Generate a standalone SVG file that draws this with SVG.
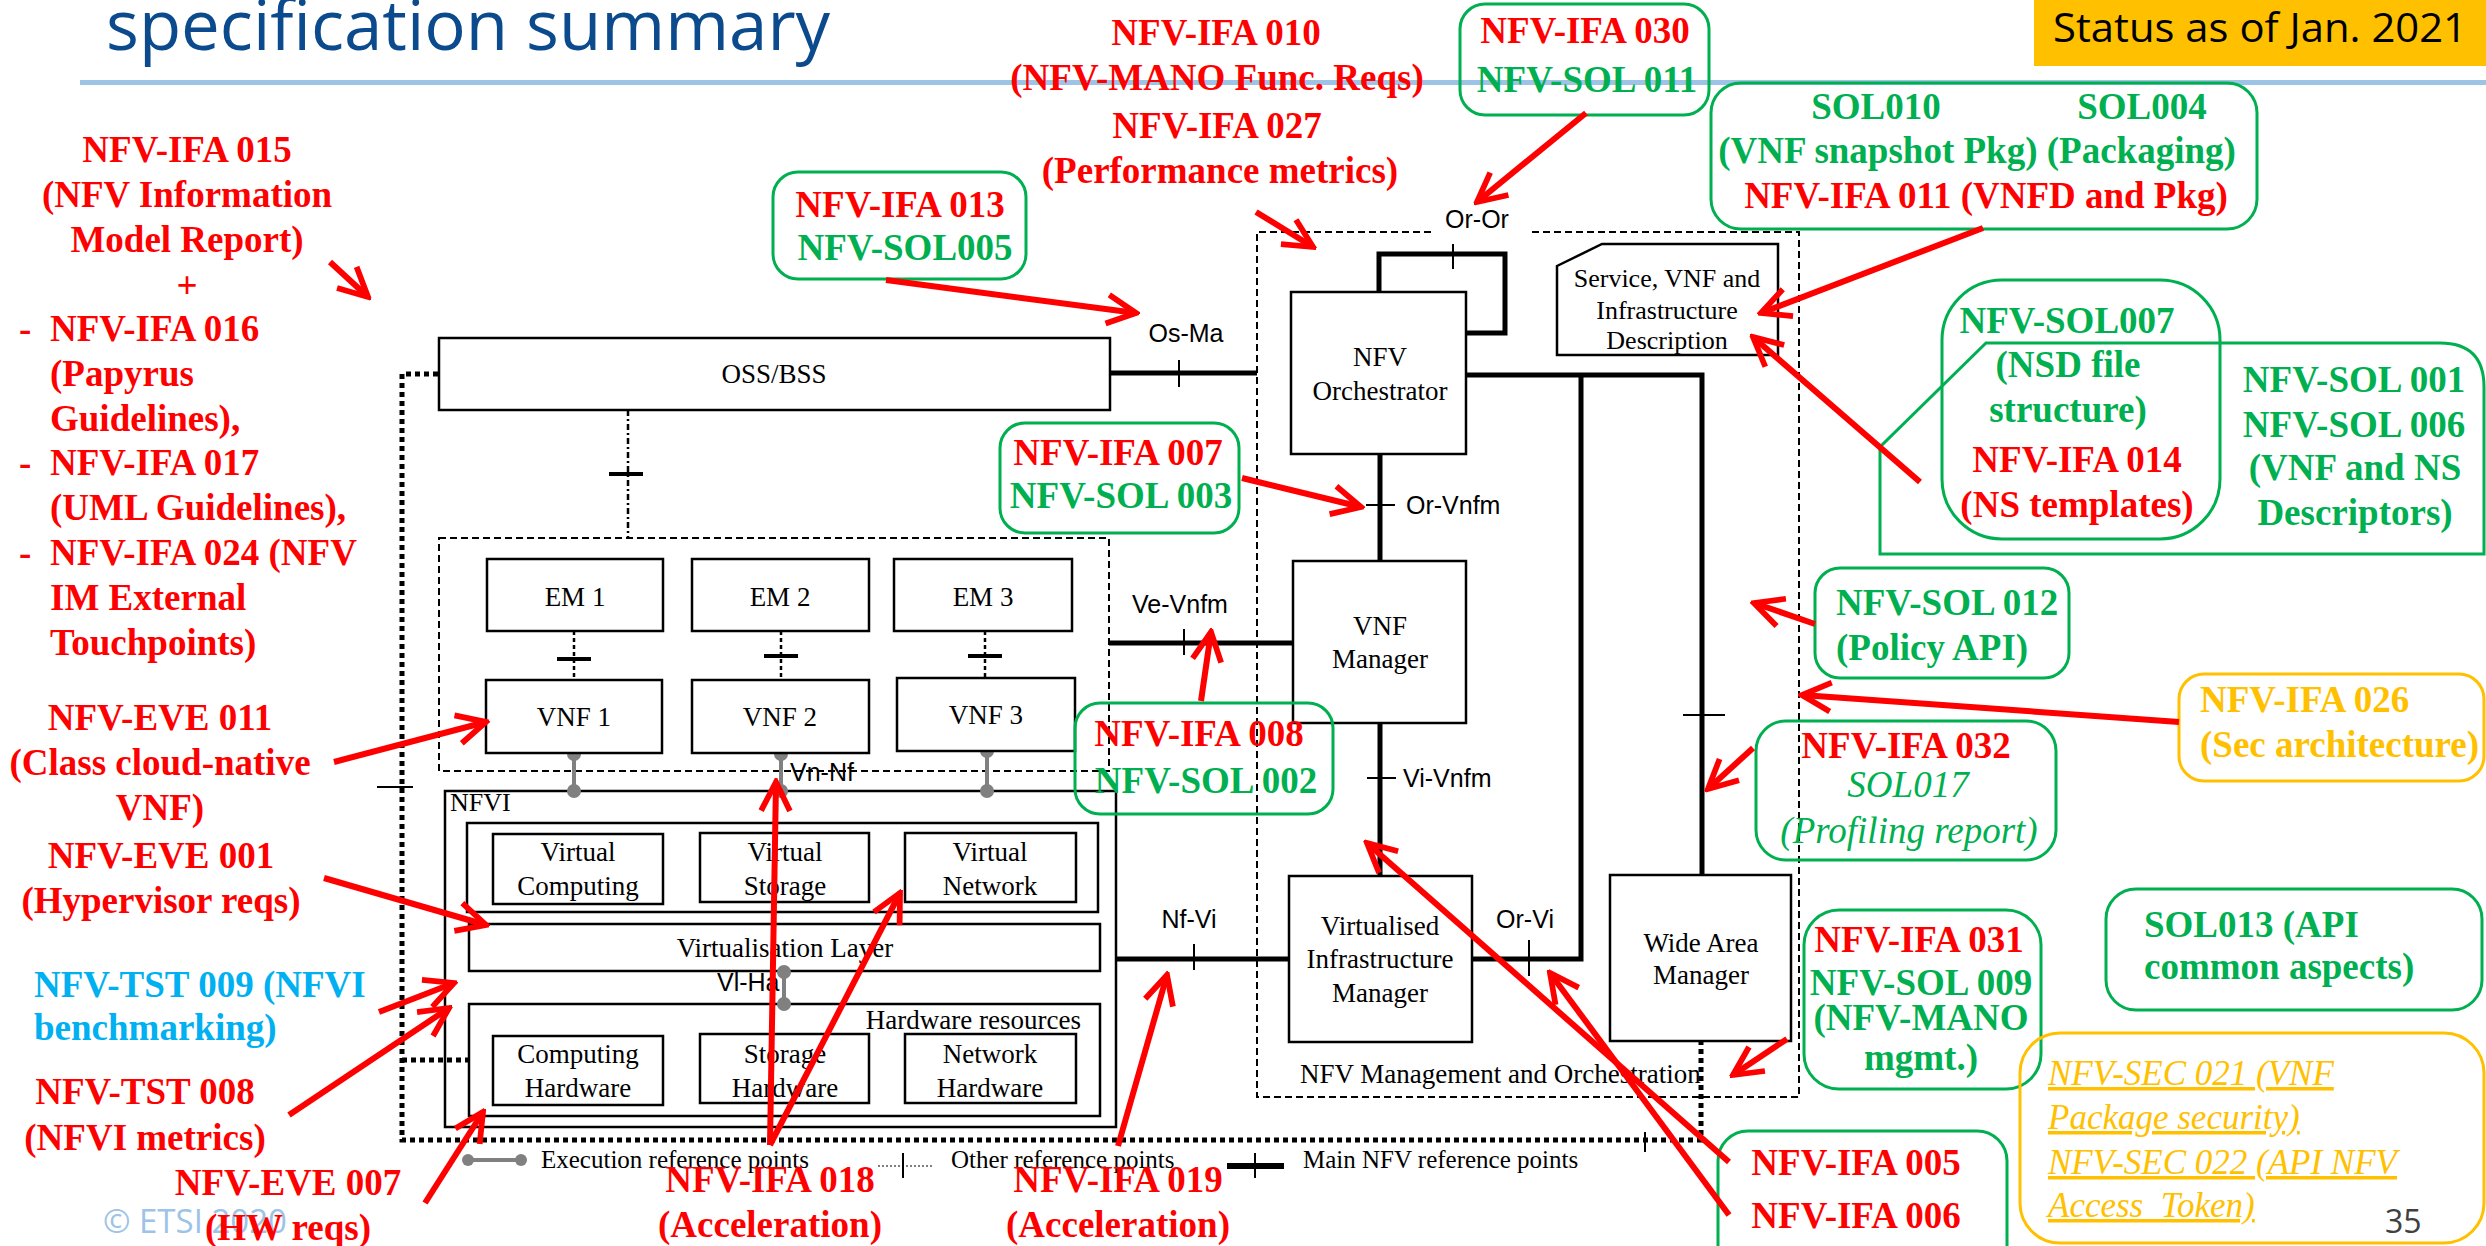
<svg xmlns="http://www.w3.org/2000/svg" width="2486" height="1246" viewBox="0 0 2486 1246">
<style>
.nb{font-family:"Liberation Serif","Times New Roman",serif;font-weight:bold;font-size:37px}
.it{font-family:"Liberation Serif","Times New Roman",serif;font-style:italic;font-size:37px}
.sec{font-family:"Liberation Serif","Times New Roman",serif;font-style:italic;font-size:35px;fill:#FFC000;text-decoration:underline}
.red{fill:#FF0000}.grn{fill:#00B050}.gold{fill:#FFC000}.cyan{fill:#00B0F0}
.dg{font-family:"Liberation Serif","Times New Roman",serif;font-size:27px;fill:#000}
.sm{font-size:26px}
.lg{font-family:"Liberation Serif","Times New Roman",serif;font-size:25px;fill:#000}
.lab{font-family:"Liberation Sans",Arial,sans-serif;font-size:25px;fill:#000}
.m{text-anchor:middle}.e{text-anchor:end}
.box{fill:#fff;stroke:#000;stroke-width:2.5}
.cont{fill:none;stroke:#000;stroke-width:2.5}
.dash{fill:none;stroke:#000;stroke-width:2;stroke-dasharray:7 4}
.main{fill:none;stroke:#000;stroke-width:5}
.tick{stroke:#000;stroke-width:2;fill:none}
.ttick{stroke:#000;stroke-width:4;fill:none}
.dd{stroke:#000;stroke-width:2.5;stroke-dasharray:4 3;fill:none}
.hd{fill:none;stroke:#000;stroke-width:5;stroke-dasharray:5 4}
.ex{stroke:#808080;stroke-width:4;fill:none}
.exd{fill:#808080}
.note{fill:none;stroke:#00B050;stroke-width:3}
.gnote{fill:none;stroke:#FFC000;stroke-width:3}
.arr{fill:none;stroke:#FF0000;stroke-width:6;marker-end:url(#ah)}
</style>
<defs>
<marker id="ah" viewBox="0 0 10 10" refX="9" refY="5" markerWidth="6" markerHeight="6" orient="auto" markerUnits="strokeWidth">
<path d="M1,1 L9,5 L1,9" fill="none" stroke="#FF0000" stroke-width="1.6"/>
</marker>
</defs>
<rect width="2486" height="1246" fill="#fff"/>

<g id="header">
<text x="106" y="50" font-family="'Open Sans',sans-serif" font-size="69" fill="#0B4A8C">specification summary</text>
<rect x="80" y="80" width="2406" height="5" fill="#9DC3E6"/>
<rect x="2034" y="0" width="452" height="66" fill="#FFC000"/>
<text x="2053" y="42" font-family="'Open Sans',sans-serif" font-size="40" fill="#000" textLength="414" lengthAdjust="spacingAndGlyphs">Status as of Jan. 2021</text>
<text x="103" y="1233" font-family="'Open Sans',sans-serif" font-size="33" fill="#9DC3E6">© ETSI 2020</text>
<text x="2385" y="1233" font-family="'Open Sans',sans-serif" font-size="32" fill="#404040">35</text>
</g>

<g id="diagram-containers">
<rect x="439" y="538" width="670" height="233" class="dash"/>
<rect x="445" y="791" width="671" height="336" class="cont"/>
<rect x="467" y="823" width="631" height="89" class="cont"/>
<rect x="469" y="924" width="631" height="47" class="cont"/>
<rect x="469" y="1004" width="631" height="112" class="cont"/>
<path d="M1431,232 H1257 V1097 H1799 V232 H1528" class="dash"/>
</g>

<g id="connectors">
<path d="M1110,373 H1257" class="main"/>
<path d="M1379,292 V254 H1505 V333 H1466" class="main"/>
<path d="M1380,454 V561" class="main"/>
<path d="M1109,643 H1293" class="main"/>
<path d="M1380,723 V876" class="main"/>
<path d="M1466,375 H1702 V875" class="main"/>
<path d="M1581,375 V959 H1472" class="main"/>
<path d="M1116,959 H1289" class="main"/>
<path d="M1179,360 V387 M1453,244 V269 M1366,505 H1395 M1184,629 V655 M1367,778 H1396 M1683,715 H1725 M1529,940 V976 M1194,944 V970" class="tick"/>
<path d="M438,374 H402 V1140 H1701 V1041 M402,1060 H469" class="hd"/>
<path d="M377,787 H413 M1645,1132 V1152" class="tick" stroke-width="2.5"/>
<path d="M628,410 V538" stroke="#000" stroke-width="2.5" stroke-dasharray="6 3 2 3" fill="none"/>
<path d="M609,474 H643" class="ttick"/>
<path d="M574,631 V680 M781,631 V680 M985,631 V678" class="dd"/>
<path d="M557,659 H591 M764,656 H798 M968,656 H1002" class="ttick"/>
<path d="M574,754 V791 M781,754 V791 M987,751 V791 M784,972 V1004" class="ex"/>
<g class="exd">
<circle cx="574" cy="754" r="7"/><circle cx="574" cy="791" r="7"/>
<circle cx="781" cy="754" r="7"/><circle cx="781" cy="791" r="7"/>
<circle cx="987" cy="751" r="7"/><circle cx="987" cy="791" r="7"/>
<circle cx="784" cy="972" r="7"/><circle cx="784" cy="1004" r="7"/>
</g>
</g>

<g id="node-oss"><rect x="439" y="338" width="671" height="72" class="box"/><text x="774" y="383" class="dg m">OSS/BSS</text></g>
<g id="node-em1"><rect x="487" y="559" width="176" height="72" class="box"/><text x="575" y="606" class="dg m">EM 1</text></g>
<g id="node-em2"><rect x="692" y="559" width="177" height="72" class="box"/><text x="780" y="606" class="dg m">EM 2</text></g>
<g id="node-em3"><rect x="894" y="559" width="178" height="72" class="box"/><text x="983" y="606" class="dg m">EM 3</text></g>
<g id="node-vnf1"><rect x="486" y="680" width="176" height="73" class="box"/><text x="574" y="726" class="dg m">VNF 1</text></g>
<g id="node-vnf2"><rect x="692" y="680" width="177" height="73" class="box"/><text x="780" y="726" class="dg m">VNF 2</text></g>
<g id="node-vnf3"><rect x="897" y="678" width="178" height="73" class="box"/><text x="986" y="724" class="dg m">VNF 3</text></g>
<g id="node-nfvi"><text x="450" y="811" class="dg sm">NFVI</text></g>
<g id="node-vcomp"><rect x="493" y="834" width="170" height="70" class="box"/><text x="578" y="861" class="dg m">Virtual</text><text x="578" y="895" class="dg m">Computing</text></g>
<g id="node-vstor"><rect x="700" y="833" width="169" height="69" class="box"/><text x="785" y="861" class="dg m">Virtual</text><text x="785" y="895" class="dg m">Storage</text></g>
<g id="node-vnet"><rect x="905" y="833" width="171" height="69" class="box"/><text x="990" y="861" class="dg m">Virtual</text><text x="990" y="895" class="dg m">Network</text></g>
<g id="node-vlayer"><text x="785" y="957" class="dg m">Virtualisation Layer</text></g>
<g id="node-hw"><text x="1081" y="1029" class="dg e">Hardware resources</text></g>
<g id="node-chw"><rect x="493" y="1036" width="170" height="69" class="box"/><text x="578" y="1063" class="dg m">Computing</text><text x="578" y="1097" class="dg m">Hardware</text></g>
<g id="node-shw"><rect x="700" y="1034" width="169" height="69" class="box"/><text x="785" y="1063" class="dg m">Storage</text><text x="785" y="1097" class="dg m">Hardware</text></g>
<g id="node-nhw"><rect x="905" y="1034" width="171" height="69" class="box"/><text x="990" y="1063" class="dg m">Network</text><text x="990" y="1097" class="dg m">Hardware</text></g>
<g id="node-nfvo"><rect x="1291" y="292" width="175" height="162" class="box"/><text x="1380" y="366" class="dg m">NFV</text><text x="1380" y="400" class="dg m">Orchestrator</text></g>
<g id="node-vnfm"><rect x="1293" y="561" width="173" height="162" class="box"/><text x="1380" y="635" class="dg m">VNF</text><text x="1380" y="668" class="dg m">Manager</text></g>
<g id="node-vim"><rect x="1289" y="876" width="183" height="166" class="box"/><text x="1380" y="935" class="dg m">Virtualised</text><text x="1380" y="968" class="dg m">Infrastructure</text><text x="1380" y="1002" class="dg m">Manager</text></g>
<g id="node-wan"><rect x="1610" y="875" width="181" height="166" class="box"/><text x="1701" y="952" class="dg m">Wide Area</text><text x="1701" y="984" class="dg m">Manager</text></g>
<g id="node-desc"><path d="M1557,266 L1602,244 H1778 V355 H1557 Z" class="box"/><text x="1667" y="287" class="dg sm m">Service, VNF and</text><text x="1667" y="319" class="dg sm m">Infrastructure</text><text x="1667" y="349" class="dg sm m">Description</text></g>
<g id="node-mano-label"><text x="1300" y="1083" class="dg">NFV Management and Orchestration</text></g>

<g id="ref-labels">
<text x="1186" y="342" class="lab m">Os-Ma</text>
<text x="1477" y="228" class="lab m">Or-Or</text>
<text x="1406" y="514" class="lab">Or-Vnfm</text>
<text x="1180" y="613" class="lab m">Ve-Vnfm</text>
<text x="1403" y="787" class="lab">Vi-Vnfm</text>
<text x="790" y="781" class="lab">Vn-Nf</text>
<text x="717" y="991" class="lab">Vl-Ha</text>
<text x="1189" y="928" class="lab m">Nf-Vi</text>
<text x="1525" y="928" class="lab m">Or-Vi</text>
</g>

<g id="legend">
<path d="M468,1160 H521" class="ex"/><circle cx="468" cy="1160" r="6" class="exd"/><circle cx="521" cy="1160" r="6" class="exd"/>
<text x="541" y="1168" class="lg">Execution reference points</text>
<path d="M878,1166 H932" stroke="#555" stroke-width="1.5" stroke-dasharray="2 2"/>
<path d="M903,1153 V1178" class="tick"/>
<text x="951" y="1168" class="lg">Other reference points</text>
<path d="M1227,1166 H1284" stroke="#000" stroke-width="6"/>
<path d="M1255,1153 V1178" class="tick"/>
<text x="1303" y="1168" class="lg">Main NFV reference points</text>
</g>

<g id="note-left">
<text class="nb red m" x="187" y="162">NFV-IFA 015</text>
<text class="nb red m" x="187" y="207">(NFV Information</text>
<text class="nb red m" x="187" y="252">Model Report)</text>
<text class="nb red m" x="187" y="298">+</text>
<text class="nb red" x="19" y="341">-</text><text class="nb red" x="50" y="341">NFV-IFA 016</text>
<text class="nb red" x="50" y="386">(Papyrus</text>
<text class="nb red" x="50" y="431">Guidelines),</text>
<text class="nb red" x="19" y="475">-</text><text class="nb red" x="50" y="475">NFV-IFA 017</text>
<text class="nb red" x="50" y="520">(UML Guidelines),</text>
<text class="nb red" x="19" y="565">-</text><text class="nb red" x="50" y="565">NFV-IFA 024 (NFV</text>
<text class="nb red" x="50" y="610">IM External</text>
<text class="nb red" x="50" y="655">Touchpoints)</text>
</g>
<g id="note-eve011"><text class="nb red m" x="160" y="730">NFV-EVE 011</text><text class="nb red m" x="160" y="775">(Class cloud-native</text><text class="nb red m" x="160" y="820">VNF)</text></g>
<g id="note-eve001"><text class="nb red m" x="161" y="868">NFV-EVE 001</text><text class="nb red m" x="161" y="913">(Hypervisor reqs)</text></g>
<g id="note-tst009"><text class="nb cyan" x="34" y="997">NFV-TST 009 (NFVI</text><text class="nb cyan" x="34" y="1040">benchmarking)</text></g>
<g id="note-tst008"><text class="nb red m" x="145" y="1104">NFV-TST 008</text><text class="nb red m" x="145" y="1150">(NFVI metrics)</text></g>
<g id="note-eve007"><text class="nb red m" x="288" y="1195">NFV-EVE 007</text><text class="nb red m" x="288" y="1240">(HW reqs)</text></g>
<g id="note-ifa018"><text class="nb red m" x="770" y="1192">NFV-IFA 018</text><text class="nb red m" x="770" y="1237">(Acceleration)</text></g>
<g id="note-ifa019"><text class="nb red m" x="1118" y="1192">NFV-IFA 019</text><text class="nb red m" x="1118" y="1237">(Acceleration)</text></g>
<g id="note-ifa010"><text class="nb red m" x="1216" y="45">NFV-IFA 010</text><text class="nb red m" x="1217" y="90">(NFV-MANO Func. Reqs)</text><text class="nb red m" x="1217" y="138">NFV-IFA 027</text><text class="nb red m" x="1220" y="183">(Performance metrics)</text></g>
<g id="note-ifa013"><rect x="773" y="172" width="253" height="107" rx="25" class="note"/><text class="nb red m" x="900" y="217">NFV-IFA 013</text><text class="nb grn m" x="905" y="260">NFV-SOL005</text></g>
<g id="note-ifa030"><rect x="1460" y="4" width="249" height="111" rx="25" class="note"/><text class="nb red m" x="1585" y="43">NFV-IFA 030</text><text class="nb grn m" x="1587" y="92">NFV-SOL 011</text></g>
<g id="note-sol010"><rect x="1711" y="83" width="546" height="146" rx="30" class="note"/><text class="nb grn m" x="1876" y="119">SOL010</text><text class="nb grn m" x="2142" y="119">SOL004</text><text class="nb grn m" x="1977" y="163">(VNF snapshot Pkg) (Packaging)</text><text class="nb red m" x="1986" y="208">NFV-IFA 011 (VNFD and Pkg)</text></g>
<g id="note-sol007"><rect x="1942" y="280" width="278" height="259" rx="60" class="note"/><text class="nb grn m" x="2067" y="333">NFV-SOL007</text><text class="nb grn m" x="2068" y="377">(NSD file</text><text class="nb grn m" x="2068" y="422">structure)</text><text class="nb red m" x="2077" y="472">NFV-IFA 014</text><text class="nb red m" x="2077" y="517">(NS templates)</text></g>
<g id="note-sol001"><path d="M1880,554 V447 L1986,343 H2440 Q2484,343 2484,387 V554 Z" class="note"/><text class="nb grn m" x="2354" y="392">NFV-SOL 001</text><text class="nb grn m" x="2354" y="437">NFV-SOL 006</text><text class="nb grn m" x="2355" y="480">(VNF and NS</text><text class="nb grn m" x="2355" y="525">Descriptors)</text></g>
<g id="note-ifa007"><rect x="1000" y="423" width="239" height="110" rx="25" class="note"/><text class="nb red m" x="1118" y="465">NFV-IFA 007</text><text class="nb grn m" x="1121" y="508">NFV-SOL 003</text></g>
<g id="note-ifa008"><rect x="1075" y="703" width="258" height="111" rx="25" class="note"/><text class="nb red m" x="1199" y="746">NFV-IFA 008</text><text class="nb grn m" x="1206" y="793">NFV-SOL 002</text></g>
<g id="note-sol012"><rect x="1815" y="568" width="254" height="110" rx="25" class="note"/><text class="nb grn" x="1836" y="615">NFV-SOL 012</text><text class="nb grn" x="1836" y="660">(Policy API)</text></g>
<g id="note-ifa026"><rect x="2179" y="674" width="305" height="107" rx="25" class="gnote"/><text class="nb gold" x="2200" y="712">NFV-IFA 026</text><text class="nb gold" x="2200" y="757">(Sec architecture)</text></g>
<g id="note-ifa032"><rect x="1756" y="721" width="300" height="139" rx="30" class="note"/><text class="nb red m" x="1906" y="758">NFV-IFA 032</text><text class="it grn m" x="1908" y="797">SOL017</text><text class="it grn m" x="1909" y="843">(Profiling report)</text></g>
<g id="note-ifa031"><rect x="1804" y="910" width="237" height="179" rx="35" class="note"/><text class="nb red m" x="1919" y="952">NFV-IFA 031</text><text class="nb grn m" x="1921" y="995">NFV-SOL 009</text><text class="nb grn m" x="1921" y="1030">(NFV-MANO</text><text class="nb grn m" x="1921" y="1070">mgmt.)</text></g>
<g id="note-sol013"><rect x="2106" y="889" width="376" height="121" rx="30" class="note"/><text class="nb grn" x="2144" y="937">SOL013 (API</text><text class="nb grn" x="2144" y="979">common aspects)</text></g>
<g id="note-sec"><rect x="2020" y="1033" width="464" height="210" rx="40" class="gnote"/><text class="sec" x="2048" y="1085">NFV-SEC 021 (VNF</text><text class="sec" x="2048" y="1129">Package security)</text><text class="sec" x="2048" y="1174">NFV-SEC 022 (API NFV</text><text class="sec" x="2048" y="1217" xml:space="preserve">Access  Token)</text></g>
<g id="note-ifa005"><rect x="1718" y="1131" width="289" height="150" rx="30" class="note"/><text class="nb red m" x="1856" y="1175">NFV-IFA 005</text><text class="nb red m" x="1856" y="1228">NFV-IFA 006</text></g>

<g id="arrows">
<path class="arr" d="M330,262 L368,297"/>
<path class="arr" d="M886,280 L1136,313"/>
<path class="arr" d="M1256,212 L1313,247"/>
<path class="arr" d="M1586,113 L1477,202"/>
<path class="arr" d="M1983,228 L1761,313"/>
<path class="arr" d="M1920,482 L1753,337"/>
<path class="arr" d="M1242,478 L1361,507"/>
<path class="arr" d="M1201,701 L1211,632"/>
<path class="arr" d="M1815,624 L1754,603"/>
<path class="arr" d="M2179,722 L1802,695"/>
<path class="arr" d="M1753,748 L1708,789"/>
<path class="arr" d="M1787,1039 L1733,1075"/>
<path class="arr" d="M334,762 L486,722"/>
<path class="arr" d="M324,878 L486,925"/>
<path class="arr" d="M379,1012 L454,983"/>
<path class="arr" d="M289,1115 L449,1008"/>
<path class="arr" d="M425,1203 L483,1112"/>
<path class="arr" d="M770,1145 L776,782"/>
<path class="arr" d="M770,1145 L900,893"/>
<path class="arr" d="M1118,1146 L1167,975"/>
<path class="arr" d="M1729,1162 L1367,843"/>
<path class="arr" d="M1729,1215 L1550,973"/>
</g>
</svg>
